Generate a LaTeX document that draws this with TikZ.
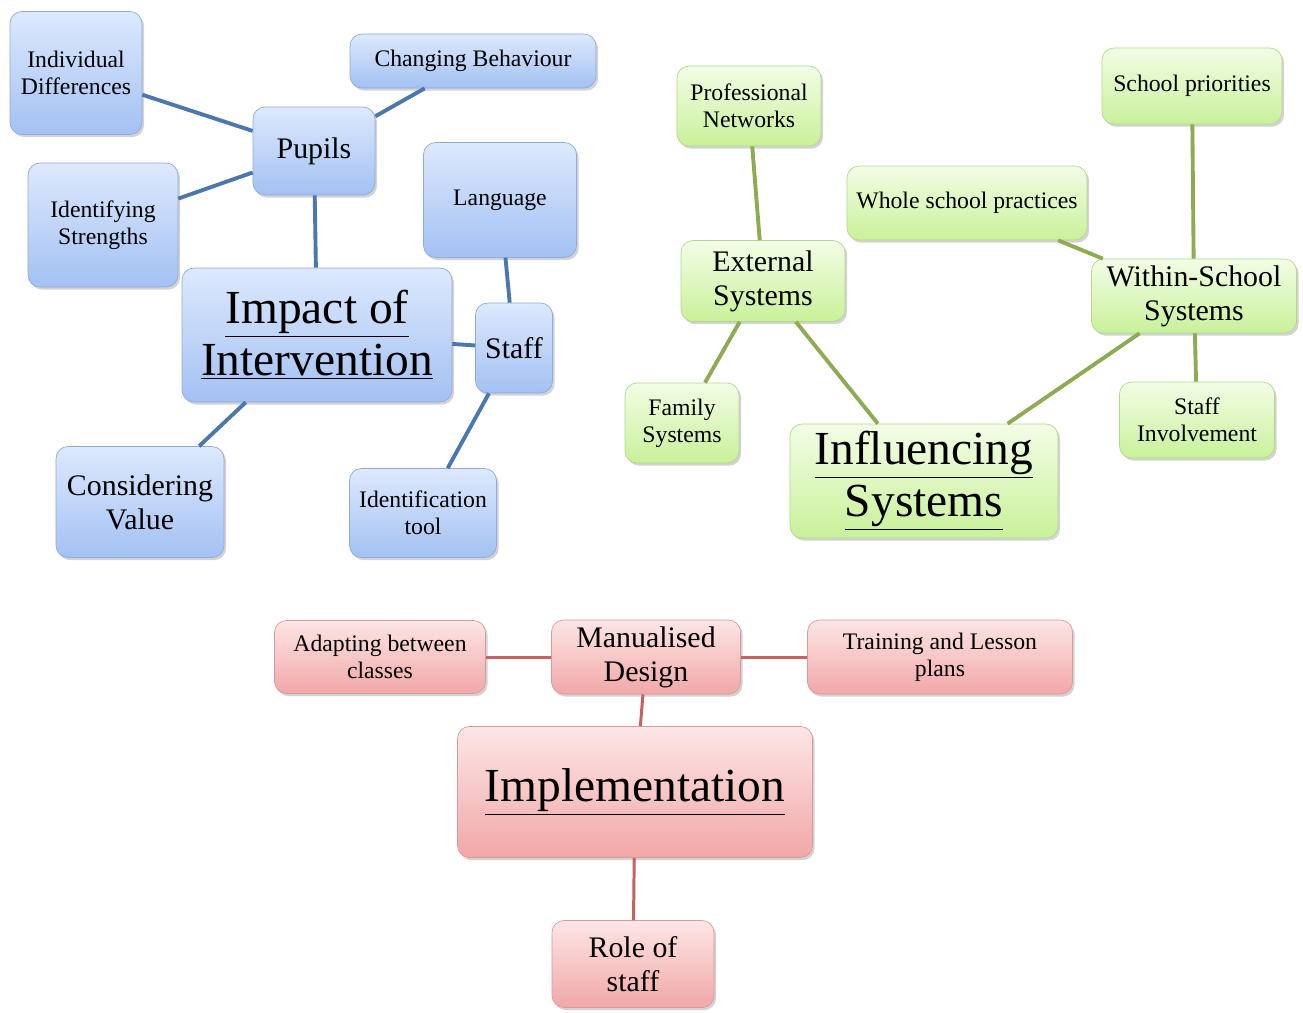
\documentclass[tikz,border=0pt]{standalone}
\usepackage{fontspec}
\setmainfont{Liberation Serif}
\usetikzlibrary{shadows}

\definecolor{bluetop}{HTML}{DDE9FD}
\definecolor{bluebot}{HTML}{A3C1F3}
\definecolor{blueedge}{HTML}{8FAADC}
\definecolor{bluelinkc}{HTML}{4A78AE}
\definecolor{greentop}{HTML}{F3FDE6}
\definecolor{greenbot}{HTML}{C9F19A}
\definecolor{greenedge}{HTML}{B3D88A}
\definecolor{greenlinkc}{HTML}{8EAA52}
\definecolor{redtop}{HTML}{FDE6E6}
\definecolor{redbot}{HTML}{F2A7A7}
\definecolor{rededge}{HTML}{D99A9A}
\definecolor{redlinkc}{HTML}{C7625F}

\newcommand\fsmall{\fontsize{13.5}{15.5}\selectfont}
\newcommand\fmid{\fontsize{17}{19.5}\selectfont}
\newcommand\fbig{\fontsize{27}{29.5}\selectfont}

\begin{document}
\begin{tikzpicture}[
        x=0.02cm, y=-0.02cm,
        every node/.append style={inner sep=2pt, align=center},
        box/.style={rounded corners=0.24cm, thin,
            drop shadow={opacity=0.35, shadow xshift=1.2pt, shadow yshift=-1.5pt}},
        sz/.style 2 args={minimum width=#1cm, minimum height=#2cm},
        small/.style={font=\fsmall},
        mid/.style={font=\fmid},
        big/.style={font=\fbig},
        bluebox/.style={box, draw=blueedge, top color=bluetop, bottom color=bluebot},
        greenbox/.style={box, draw=greenedge, top color=greentop, bottom color=greenbot},
        redbox/.style={box, draw=rededge, top color=redtop, bottom color=redbot},
        bluelink/.style={draw=bluelinkc, line width=2.2pt},
        greenlink/.style={draw=greenlinkc, line width=2.2pt},
        redlink/.style={draw=redlinkc, line width=1.7pt}
    ]
        \useasboundingbox (0,0) rectangle (1303,1012);

        % impact of intervention
        \node[bluebox, small, sz={2.64}{2.46}] (diff) at (76,73) {Individual\\Differences};
        \node[bluebox, small, sz={4.92}{1.08}] (behav) at (473,61) {Changing Behaviour};
        \node[bluebox, mid, sz={2.44}{1.76}] (pupils) at (314,151) {Pupils};
        \node[bluebox, small, sz={3.00}{2.48}] (strength) at (103,225) {Identifying\\Strengths};
        \node[bluebox, small, sz={3.06}{2.30}] (lang) at (500,200) {Language};
        \node[bluebox, big, sz={5.40}{2.68}] (impact) at (317,335) {\underline{Impact of}\\\underline{Intervention}};
        \node[bluebox, mid, sz={1.54}{1.80}] (staff) at (514,348) {Staff};
        \node[bluebox, mid, sz={3.36}{2.22}] (value) at (140,502) {Considering\\Value};
        \node[bluebox, small, sz={2.94}{1.78}] (tool) at (423,513) {Identification\\tool};

        \draw[bluelink] (diff) -- (pupils);
        \draw[bluelink] (strength) -- (pupils);
        \draw[bluelink] (pupils) -- (behav);
        \draw[bluelink] (pupils) -- (impact);
        \draw[bluelink] (lang) -- (staff);
        \draw[bluelink] (impact) -- (staff);
        \draw[bluelink] (staff) -- (tool);
        \draw[bluelink] (impact) -- (value);

        % influencing systems
        \node[greenbox, small, sz={2.88}{1.60}] (profnet) at (749,106) {Professional\\Networks};
        \node[greenbox, small, sz={3.60}{1.52}] (priority) at (1192,86) {School priorities};
        \node[greenbox, small, sz={4.80}{1.48}] (whole) at (967,203) {Whole school practices};
        \node[greenbox, mid, sz={3.28}{1.62}] (external) at (763,281) {External\\Systems};
        \node[greenbox, mid, sz={4.10}{1.48}] (within) at (1194,296) {Within-School\\Systems};
        \node[greenbox, small, sz={2.28}{1.60}] (family) at (682,423) {Family\\Systems};
        \node[greenbox, small, sz={3.10}{1.52}] (involve) at (1197,420) {Staff\\Involvement};
        \node[greenbox, big, sz={5.36}{2.28}] (influence) at (924,481) {\underline{Influencing}\\\underline{Systems}};

        \draw[greenlink] (profnet) -- (external);
        \draw[greenlink] (external) -- (family);
        \draw[greenlink] (external) -- (influence);
        \draw[greenlink] (whole) -- (within);
        \draw[greenlink] (priority) -- (within);
        \draw[greenlink] (within) -- (influence);
        \draw[greenlink] (within) -- (involve);

        % implementation
        \node[redbox, small, sz={4.22}{1.46}] (adapt) at (380,657) {Adapting between\\classes};
        \node[redbox, mid, sz={3.78}{1.48}] (manual) at (646,657) {Manualised\\Design};
        \node[redbox, small, sz={5.30}{1.48}] (training) at (940,657) {Training and Lesson\\plans};
        \node[redbox, big, sz={7.10}{2.62}] (implement) at (635,792) {\underline{Implementation}};
        \node[redbox, mid, sz={3.24}{1.74}] (role) at (633,964) {Role of\\staff};

        \draw[redlink] (adapt) -- (manual);
        \draw[redlink] (manual) -- (training);
        \draw[redlink] (manual) -- (implement);
        \draw[redlink] (implement) -- (role);
    \end{tikzpicture}
\end{document}
